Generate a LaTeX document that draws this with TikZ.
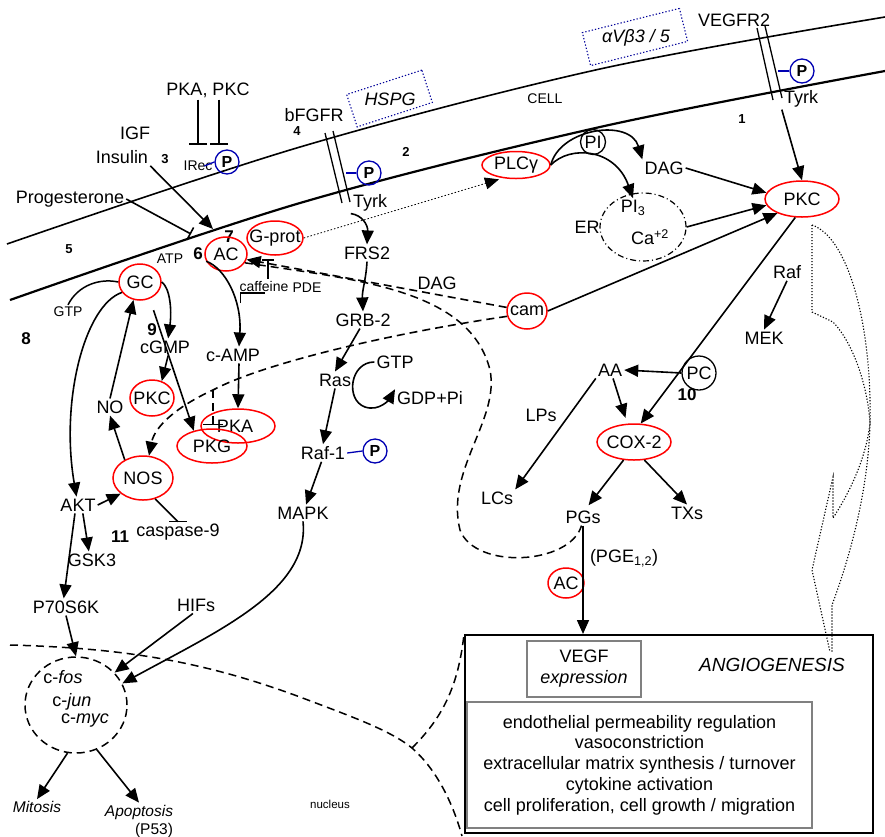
\documentclass[tikz,border=0pt]{standalone}
\usepackage{fontspec}
\setmainfont{Liberation Sans}
\usetikzlibrary{arrows.meta,shapes.geometric,calc}
\newcommand{\zw}[1]{\makebox[0pt]{#1}}

\begin{document}
\begin{tikzpicture}[
    x=1pt, y=-1pt,
    every node/.style={font=\fontsize{18}{21}\selectfont, inner sep=2pt},
    sm/.style={font=\fontsize{14}{16}\selectfont},
    num/.style={font=\fontsize{13}{15}\selectfont\bfseries},
    bnum/.style={font=\fontsize{17}{19}\selectfont\bfseries},
    enz/.style={ellipse, draw=red, line width=1.5pt, inner sep=0pt},
    phos/.style={circle, draw=blue!70!black, line width=1.3pt, minimum size=24pt, inner sep=0pt, font=\fontsize{16}{18}\selectfont\bfseries},
    ring/.style={circle, draw, line width=1.3pt, inner sep=0pt},
    stub/.style={draw=blue!70!black, line width=1.3pt},
    arr/.style={-{Triangle[length=14pt,width=12pt]}, line width=1.6pt},
    inh/.style={-{Bar[width=18pt]}, line width=1.6pt},
    darr/.style={arr, dash pattern=on 8pt off 5pt},
    dline/.style={line width=1.5pt, dash pattern=on 8pt off 5pt},
    dotline/.style={line width=1.1pt, dash pattern=on 1.2pt off 1.8pt},
    membrane/.style={line width=1.6pt},
    glyc/.style={draw=blue!60!black, line width=1.1pt, dash pattern=on 1.3pt off 2pt, minimum height=34pt}
  ]
  \useasboundingbox (0,0) rectangle (885,836);

  % membranes and receptors
  \draw[membrane] plot[smooth, tension=0.55] coordinates {(7,244) (300,147) (600,69) (885,17)};
  \draw[membrane, line width=2.2pt] plot[smooth, tension=0.55] coordinates {(10,300) (300,203) (600,127) (885,71)};
  \draw[line width=1.3pt] (757,28) -- (773,100) (765,26) -- (782,98);
  \draw[line width=1.3pt] (325,133) -- (342,203) (333,131) -- (350,202);

  \node[glyc, rotate=18, minimum width=79pt] (hspgbox) at (389.5,98.5) {};
  \node[font=\fontsize{18}{21}\selectfont\itshape] (hspg) at (390,99) {HSPG};
  \node[glyc, rotate=14, minimum width=100pt] (avbbox) at (635,37) {};
  \node[font=\fontsize{18}{21}\selectfont\itshape] (avb) at (636,38) {αVβ3 / 5};

  % labels at the membrane
  \node (pkapkc) at (208,90) {PKA, PKC};
  \node (igf) at (135,133) {IGF};
  \node (ins) at (122,157) {Insulin};
  \node (prog) at (70,199) {Progesterone};
  \node[sm] (irec) at (198,166) {IRec};
  \node[phos] (pIR) at (227,162) {P};
  \node (bfgfr) at (314,115) {bFGFR};
  \node[phos] (pB) at (369,173) {P};
  \node (tyrkB) at (370,203) {Tyrk};
  \node[sm] (cell) at (545,99) {CELL};
  \node (vegfr) at (734,20) {VEGFR2};
  \node[phos] (pV) at (802,71) {P};
  \node (tyrkV) at (801,99) {Tyrk};
  \node[num] (n1) at (742,119) {1};
  \node[num] (n2) at (406,152) {2};
  \node[num] (n3) at (165,159) {3};
  \node[num] (n4) at (297,131) {4};
  \node[num] (n5) at (69,249) {5};
  \node[bnum] (n6) at (198,254) {6};
  \node[bnum] (n7) at (229,237) {7};
  \node[bnum] (n8) at (26,339) {8};
  \node[bnum] (n9) at (152,330) {9};
  \node[bnum] (n10) at (687,395) {10};
  \node[bnum] (n11) at (120,537) {11};

  % PLC / PKC branch
  \node[enz, minimum width=68pt, minimum height=27pt] (plc) at (516,165) {\zw{PLCγ}};
  \node[ring, minimum size=25pt] (pi) at (593,142) {PI};
  \node (dag1) at (664,168) {DAG};
  \node[ellipse, draw, line width=1.2pt, dash pattern=on 6pt off 3pt on 1pt off 3pt, minimum width=86pt, minimum height=68pt] (er) at (643,227) {};
  \node (ertxt) at (587,227) {ER};
  \node (pi3) at (633,208) {PI\textsubscript{3}};
  \node (ca) at (650,237) {Ca\textsuperscript{+2}};
  \node[enz, minimum width=74pt, minimum height=36pt] (pkc) at (802,199) {\zw{PKC}};
  \node (raf) at (787,272) {Raf};
  \node (mek) at (764,338) {MEK};
  \node (aa) at (610,370) {AA};
  \node[ring, minimum size=34pt] (pc) at (699,373) {PC};
  \node (lps) at (541,415) {LPs};
  \node[enz, minimum width=74pt, minimum height=36pt] (cox) at (634,442) {\zw{COX-2}};
  \node (lcs) at (497,498) {LCs};
  \node (pgs) at (583,517) {PGs};
  \node (txs) at (687,513) {TXs};
  \node (pge) at (624,558) {(PGE\textsubscript{1,2})};
  \node[enz, minimum width=36pt, minimum height=30pt] (ac2) at (566,583) {\zw{AC}};

  % AC / GC branch
  \node[enz, minimum width=56pt, minimum height=34pt] (gprot) at (275,238) {\zw{G-prot}};
  \node[enz, minimum width=42pt, minimum height=34pt] (ac) at (226,254) {\zw{AC}};
  \node[sm] (atp) at (170,259) {ATP};
  \node[sm] (caff) at (264,286) {caffeine};
  \node[sm] (pde) at (307,288) {PDE};
  \node (dag2) at (437,283) {DAG};
  \node[enz, minimum width=40pt, minimum height=36pt] (cam) at (527,311) {\zw{cam}};
  \node[enz, minimum width=42pt, minimum height=36pt] (gc) at (140,282) {\zw{GC}};
  \node[sm] (gtp1) at (68,312) {GTP};
  \node (cgmp) at (165,347) {cGMP};
  \node (camp) at (233,355) {c-AMP};
  \node[enz, minimum width=44pt, minimum height=36pt] (pkcs) at (152,398) {\zw{PKC}};
  \node (no) at (110,407) {NO};
  \node[enz, minimum width=74pt, minimum height=34pt] (pka) at (238,426) {\zw{\hspace{-6pt}PKA}};
  \node[enz, minimum width=70pt, minimum height=34pt] (pkg) at (212,446) {\zw{PKG}};
  \node[enz, minimum width=60pt, minimum height=44pt] (nos) at (143,478) {\zw{NOS}};
  \node (akt) at (78,505) {AKT};
  \node (casp) at (178,532) {caspase-9};
  \node (gsk) at (92,560) {GSK3};
  \node (p70) at (66,607) {P70S6K};
  \node (hifs) at (196,605) {HIFs};

  % Ras / MAPK branch
  \node (frs) at (367,253) {FRS2};
  \node (grb) at (363,320) {GRB-2};
  \node (ras) at (335,380) {Ras};
  \node (gtp2) at (395,362) {GTP};
  \node (gdp) at (430,398) {GDP+Pi};
  \node (raf1) at (323,453) {Raf-1};
  \node[phos] (pR) at (375,451) {P};
  \node (mapk) at (303,513) {MAPK};

  % nucleus
  \node[ellipse, draw, dline, minimum width=102pt, minimum height=96pt] (nuc) at (76,705) {};
  \node (cfos) at (63,677) {c-\textit{fos}};
  \node (cjun) at (72,702) {c-\textit{jun}};
  \node (cmyc) at (85,721) {c-\textit{myc}};
  \node[font=\fontsize{15.5}{18}\selectfont\itshape] (mit) at (37,807) {Mitosis};
  \node[font=\fontsize{15.5}{18}\selectfont\itshape] (apo) at (139,812) {Apoptosis};
  \node[font=\fontsize{15.5}{18}\selectfont] (p53) at (154,830) {(P53)};
  \node[font=\fontsize{11.5}{13}\selectfont] (nucl) at (330,804) {nucleus};

  % angiogenesis box
  \node[draw, line width=2pt, minimum width=408pt, minimum height=198pt] (angbox) at (669,734) {};
  \node[draw=gray, line width=1.6pt, minimum width=114pt, minimum height=56pt, align=center] (vegf) at (584,669) {VEGF\\\textit{expression}};
  \node[font=\fontsize{19}{22}\selectfont\itshape] (angio) at (772,665) {ANGIOGENESIS};
  \node[draw=gray, line width=1.6pt, minimum width=345pt, minimum height=126pt, align=center, font=\fontsize{18}{20.7}\selectfont] (effects) at (639.5,765) {endothelial permeability regulation\\vasoconstriction\\extracellular matrix synthesis / turnover\\cytokine activation\\cell proliferation, cell growth / migration};

  % free ends
  \coordinate (insT) at (213,229);
  \coordinate (progT) at (191,234);
  \coordinate (br) at (213,390);
  \coordinate (pkabar) at (213,425);
  \coordinate (pdeT) at (268,259);

  % phosphate stubs
  \draw[stub] (pIR.west) -- ++(-10,4);
  \draw[stub] (pB.west) -- ++(-10,0);
  \draw[stub] (pV.west) -- ++(-11,0);
  \draw[stub] (raf1.east) -- (pR.west);

  % receptor signalling
  \draw[inh] ([xshift=-10pt]pkapkc.south) -- ++(0,45);
  \draw[inh] ([xshift=11pt]pkapkc.south) -- ++(0,45);
  \draw[arr] (ins.south east) -- (insT);
  \draw[inh, -{Bar[width=14pt]}] (prog.east) -- (progT);
  \draw[arr] (tyrkV.south west) -- (pkc.north);
  \draw[arr] (dag1.east) -- (pkc.170);
  \draw[arr] (er.east) -- (pkc.190);
  \draw[arr] (cam.east) -- (pkc.210);
  \draw[arr] (plc.east) .. controls (560,128) and (630,118) .. (dag1.north west);
  \draw[arr] (plc.east) .. controls (570,145) and (615,148) .. (pi3.north);
  \draw[-{Triangle[length=14pt,width=12pt]}, line width=0.8pt, dash pattern=on 1.5pt off 2pt, shorten >=4pt] (gprot.east) -- (plc.225);
  \draw[arr] (pkc.250) -- (cox.70);
  \draw[arr] (raf.south) -- (mek.north);
  \draw[arr] (pc.west) -- (aa.east);
  \draw[arr, shorten >=6pt] (aa.-70) -- (cox.110);
  \draw[arr] (aa.south west) -- (lcs.north east);
  \draw[arr, shorten >=4pt] (cox.240) -- (pgs.70);
  \draw[arr] (cox.-60) -- (txs.north);
  \draw[arr] (pgs.south) -- (pgs.south |- angbox.north);

  % cAMP / cGMP
  \draw[darr] (cam.170) -- (ac.-15);
  \draw[dline] (ac.-25) .. controls (360,280) and (470,290) .. (490,370) .. controls (500,420) and (445,470) .. (460,530) .. controls (475,570) and (570,565) .. (pgs.-100);
  \draw[darr] (cam.195) .. controls (380,335) and (260,365) .. (br) .. controls (180,405) and (155,425) .. (nos.75);
  \draw[dline, -{Bar[width=20pt]}] (br) -- (pkabar);
  \draw[inh, -{Bar[width=12pt]}] (caff.north -| pdeT) -- (pdeT);
  \draw[line width=1.2pt] ([xshift=3pt,yshift=-12pt]caff.base west) -- ([xshift=3pt,yshift=-2pt]caff.base west) -- ++(25,0);
  \draw[arr] (ac.200) .. controls (225,268) and (242,300) .. ([xshift=6pt]camp.north);
  \draw[arr] ([xshift=6pt]camp.south) -- (pka.north);
  \draw[line width=1.5pt] (gtp1.north) .. controls (78,285) and (100,278) .. (gc.west);
  \draw[arr] (gc.east) .. controls (170,288) and (172,310) .. (cgmp.70);
  \draw[arr] (cgmp.-70) -- (pkcs.60);
  \draw[arr, shorten <=12pt] (gc.-60) -- (pkg.140);
  \draw[arr] (gc.210) .. controls (85,305) and (60,400) .. (akt.100);
  \draw[arr] (no.north) -- (gc.250);
  \draw[arr] (nos.135) -- (no.south);
  \draw[arr] (akt.east) -- (nos.215);
  \draw[line width=1.6pt] (nos.-60) -- (casp.north);
  \draw[line width=1.6pt] ([xshift=-9pt]casp.north) -- ([xshift=9pt]casp.north);
  \draw[arr] (akt.-60) -- (gsk.110);
  \draw[arr] (akt.-110) -- (p70.105);
  \draw[arr] (p70.south) -- (nuc.north);
  \draw[arr] (hifs.-110) -- (nuc.40);

  % Ras / MAPK
  \draw[arr] (tyrkB.south west) .. controls (362,215) and (368,225) .. (frs.north);
  \draw[arr] (frs.south) .. controls (366,280) and (362,290) .. (grb.north);
  \draw[arr] (grb.-110) -- (ras.north);
  \draw[arr] (gtp2.west) .. controls (350,362) and (345,400) .. (365,407) .. controls (380,412) and (390,398) .. (gdp.north west);
  \draw[arr] (ras.south) -- (raf1.north);
  \draw[arr] (raf1.-100) -- (mapk.70);
  \draw[arr] (mapk.south) .. controls (310,590) and (220,630) .. (nuc.25);

  % nucleus outputs and boundary
  \draw[arr] (nuc.-100) -- (mit.north);
  \draw[arr] (nuc.-65) -- (apo.north);
  \draw[dline] (10,645) .. controls (120,648) and (200,660) .. (300,697) .. controls (350,716) and (390,730) .. (412,748) .. controls (435,768) and (452,800) .. (462,836);
  \draw[dline] (412,748) .. controls (440,720) and (458,690) .. (angbox.north west);

  % dotted outline on the right
  \draw[dotline] (812,225) .. controls (850,238) and (872,330) .. (870,423) .. controls (868,500) and (845,570) .. (832,605) -- (832,652);
  \draw[dotline] (812,225) -- (812,312) -- (833,322) .. controls (855,345) and (868,390) .. (870,423) .. controls (866,460) and (848,495) .. (833,518) -- (833,477) -- (812,570) -- (830,652);
\end{tikzpicture}
\end{document}
